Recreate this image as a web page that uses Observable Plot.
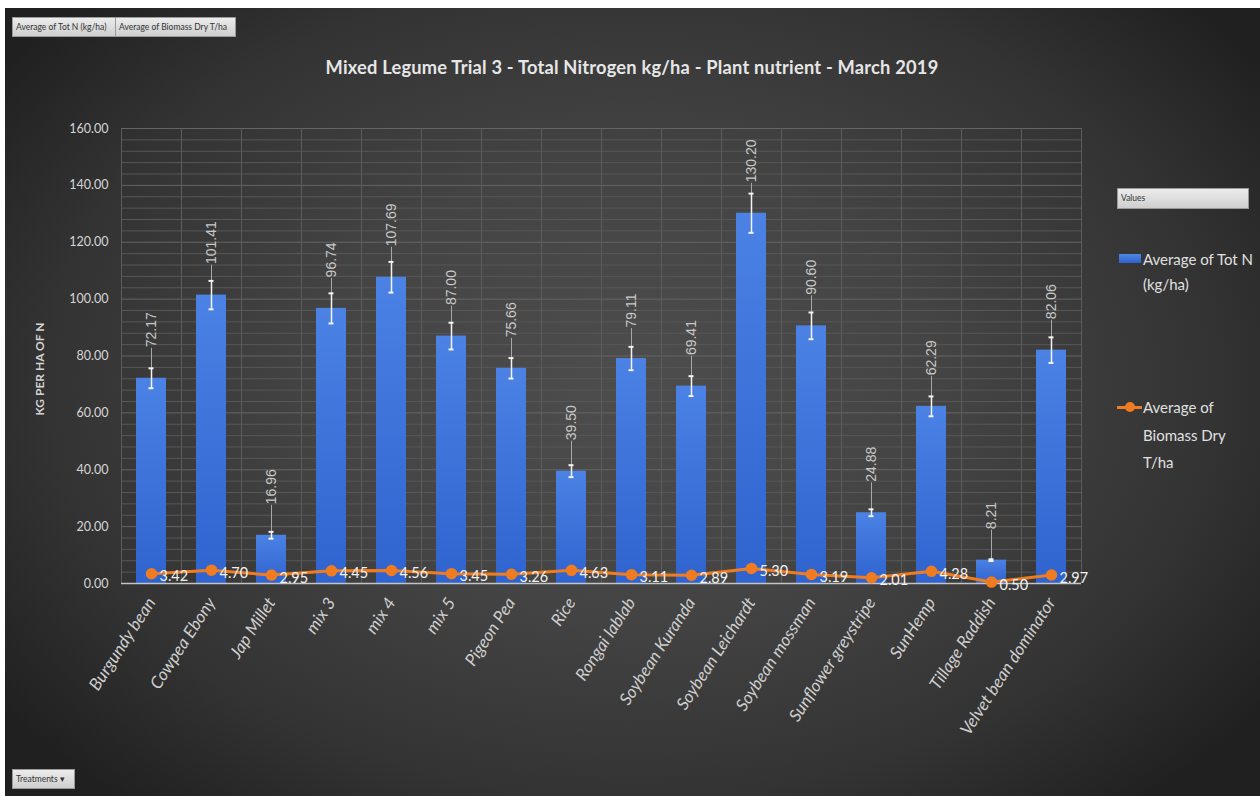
<!DOCTYPE html>
<html>
<head>
<meta charset="utf-8">
<script src="https://cdn.jsdelivr.net/npm/d3@7"></script>
<script src="https://cdn.jsdelivr.net/npm/@observablehq/plot@0.6"></script>
<style>
  html, body { margin: 0; padding: 0; background: #ffffff; width: 1260px; height: 796px; overflow: hidden; }
  #frame { position: absolute; left: 5px; top: 8px; width: 1255px; height: 788px;
    background: radial-gradient(ellipse 62% 70% at 50% 48%, #4d4d4d 0%, #444 40%, #333 75%, #202020 100%); }
  #chart { position: absolute; left: 0; top: 0; }
  .t { position: absolute; font-family: Lato, "Open Sans", sans-serif; white-space: nowrap; }
  .btn { position: absolute; height: 20px; background: linear-gradient(#ececec, #cfcfcf); border: 1px solid #9a9a9a;
    box-sizing: border-box; font-family: Lato, sans-serif; font-size: 8.5px; color: #333; line-height: 18px; padding-left: 3px; }
  svg [aria-label^="x-axis"] text { font-size: 17px; font-style: italic; fill: #cfcfcf; }
  svg [aria-label^="y-axis"] text { font-size: 12.5px; fill: #d6d6d6; }
  svg g[aria-label="bar-values"] text { letter-spacing: 1px; }
</style>
</head>
<body>
<div id="frame"></div>
<div id="chart"></div>

<div class="btn" style="left:12px;top:17px;width:104px;">Average of Tot N (kg/ha)</div>
<div class="btn" style="left:115px;top:17px;width:121px;">Average of Biomass Dry T/ha</div>
<div class="btn" style="left:12px;top:769px;width:63px;">Treatments &#9662;</div>

<div class="t" style="left:0;width:1264px;top:56px;text-align:center;font-size:18.3px;font-weight:bold;letter-spacing:0.2px;color:#e6e6e6;">Mixed Legume Trial 3 - Total Nitrogen kg/ha - Plant nutrient - March 2019</div>

<div class="t" style="left:39px;top:369px;transform:translate(-50%,-50%) rotate(-90deg);font-size:12px;font-weight:bold;color:#d4d4d4;">KG PER HA OF N</div>

<div class="btn" style="left:1117px;top:188px;width:132px;height:21px;">Values</div>
<div style="position:absolute;left:1119px;top:254px;width:22px;height:9px;background:linear-gradient(#4f86e6,#2f62cc);"></div>
<div class="t" style="left:1143px;top:247px;font-size:15px;line-height:25px;color:#e0e0e0;">Average of Tot N<br>(kg/ha)</div>
<div style="position:absolute;left:1117px;top:406px;width:25px;height:3px;background:#f07c22;"></div>
<div style="position:absolute;left:1125px;top:402px;width:10px;height:10px;border-radius:50%;background:#f07c22;"></div>
<div class="t" style="left:1143px;top:394px;font-size:15px;line-height:27.5px;color:#e0e0e0;">Average of<br>Biomass Dry<br>T/ha</div>

<script>
// ---- data ----
const treatments = ["Burgundy bean","Cowpea Ebony","Jap Millet","mix 3","mix 4","mix 5","Pigeon Pea","Rice",
  "Rongai lablab","Soybean Kuranda","Soybean Leichardt","Soybean mossman","Sunflower greystripe","SunHemp",
  "Tillage Raddish","Velvet bean dominator"];
const totN = [72.17,101.41,16.96,96.74,107.69,87.00,75.66,39.50,79.11,69.41,130.20,90.60,24.88,62.29,8.21,82.06];
const totNErr = [3.5,5.0,1.2,5.3,5.4,4.7,3.6,2.1,4.1,3.5,6.9,4.7,1.2,3.5,0.3,4.5];
const biomass = [3.42,4.70,2.95,4.45,4.56,3.45,3.26,4.63,3.11,2.89,5.30,3.19,2.01,4.28,0.50,2.97];
const yMajorTicks = [0,20,40,60,80,100,120,140,160];
const yMinorTicks = d3.range(0,161,4).filter(v => v % 20 !== 0);

const rows = treatments.map((t, i) => ({treatment: t, totN: totN[i], err: totNErr[i], biomass: biomass[i]}));

const orange = "#f07c22";

const chart = Plot.plot({
  width: 1100,
  height: 796,
  marginLeft: 121,
  marginRight: 19,
  marginTop: 128,
  marginBottom: 213,
  style: {background: "transparent", fontFamily: "Lato, sans-serif", fontSize: "12.5px", color: "#d6d6d6", overflow: "visible"},
  x: {domain: treatments, paddingInner: 0.5, paddingOuter: 0.25, tickRotate: -57, tickSize: 0, tickPadding: 16, label: null},
  y: {domain: [0,160], ticks: yMajorTicks, tickFormat: d => d.toFixed(2), tickSize: 0, tickPadding: 13, label: null},
  marks: [
    Plot.ruleY(yMinorTicks, {stroke: "#575757", strokeWidth: 1}),
    Plot.ruleY(yMajorTicks.filter(v => v > 0), {stroke: "#656565", strokeWidth: 1}),
    Plot.ruleX(treatments, {x: d => d, dx: 30, stroke: "#5c5c5c", strokeWidth: 1}),
    Plot.ruleX([treatments[0]], {x: d => d, dx: -30, stroke: "#5c5c5c", strokeWidth: 1}),
    Plot.barY(rows, {x: "treatment", y: "totN", fill: "url(#barGrad)"}),
    Plot.ruleY([0], {stroke: "#c4c4c4", strokeWidth: 1.3}),
    Plot.ruleX(rows, {x: "treatment", y1: "totN", y2: "totN", insetTop: -30, stroke: "#a8a8a8", strokeWidth: 1}),
    Plot.ruleX(rows, {x: "treatment", y1: d => d.totN - d.err, y2: d => d.totN + d.err, stroke: "#f4f4f4", strokeWidth: 1.5}),
    Plot.tickY(rows, {x: "treatment", y: d => d.totN + d.err, insetLeft: 12.5, insetRight: 12.5, stroke: "#f4f4f4", strokeWidth: 2}),
    Plot.tickY(rows, {x: "treatment", y: d => d.totN - d.err, insetLeft: 12.5, insetRight: 12.5, stroke: "#f4f4f4", strokeWidth: 2}),
    Plot.text(rows, {x: "treatment", y: "totN", text: d => d.totN.toFixed(2), rotate: -90, textAnchor: "start", dy: -31,
      fill: "#c9c9c9", fontSize: 14, fontFamily: "Liberation Sans, sans-serif", ariaLabel: "bar-values"}),
    Plot.line(rows, {x: "treatment", y: "biomass", stroke: orange, strokeWidth: 3}),
    Plot.dot(rows, {x: "treatment", y: "biomass", r: 5, fill: orange, stroke: orange}),
    Plot.text(rows, {x: "treatment", y: "biomass", text: d => d.biomass.toFixed(2), textAnchor: "start", dx: 8, dy: 3,
      fill: "#f2f2f2", fontSize: 14.5, fontFamily: "Lato, sans-serif"})
  ]
});

const defs = d3.select(chart).insert("defs", ":first-child");
const grad = defs.append("linearGradient").attr("id", "barGrad").attr("x1", 0).attr("y1", 0).attr("x2", 0).attr("y2", 1);
grad.append("stop").attr("offset", "0%").attr("stop-color", "#4b82e4");
grad.append("stop").attr("offset", "100%").attr("stop-color", "#2f63cf");

document.getElementById("chart").appendChild(chart);
</script>
</body>
</html>
